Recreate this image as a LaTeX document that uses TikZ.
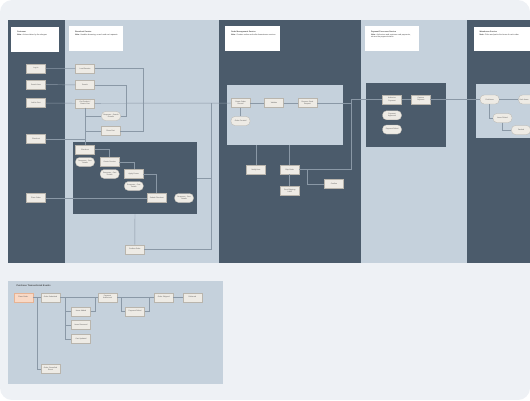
\documentclass[tikz,border=0pt]{standalone}
\usepackage{fontspec}
\setmainfont{Liberation Sans}
\usetikzlibrary{positioning}
\definecolor{canvas}{HTML}{EEF1F5}
\definecolor{lanedark}{HTML}{4B5B6B}
\definecolor{lanelight}{HTML}{C5D1DC}
\definecolor{nodefill}{HTML}{EEEBE5}
\definecolor{nodeline}{HTML}{B9B5AD}
\definecolor{nodetext}{HTML}{555555}
\definecolor{peach}{HTML}{F9D9C6}
\definecolor{peachline}{HTML}{E6B394}
\definecolor{flowline}{HTML}{8A98A6}
\begin{document}
\begin{tikzpicture}[x=1pt,y=-1pt,
    box/.style={draw=nodeline, fill=nodefill, line width=0.3pt, minimum width=19pt,
      minimum height=9pt, inner sep=0.3pt, align=center, text=nodetext,
      font=\fontsize{1.8}{2.1}\selectfont},
    pill/.style={box, rounded corners=4pt},
    startbox/.style={box, fill=peach, draw=peachline},
    darkbox/.style={fill=lanedark, draw=none, inner sep=0pt},
    lightbox/.style={fill=lanelight, draw=none, inner sep=0pt},
    flow/.style={draw=flowline, line width=0.45pt},
    header/.style={anchor=north west, align=left, text=black!75,
      font=\fontsize{1.9}{2.6}\selectfont}]
    \useasboundingbox (0,0) rectangle (530,400);
    \clip[rounded corners=12pt] (0,0) rectangle (530,400);
    \fill[canvas] (0,0) rectangle (530,400);

    % lanes
    \fill[lanedark]  (8,20)   rectangle (65,263);
    \fill[lanelight] (65,20)  rectangle (219,263);
    \fill[lanedark]  (219,20) rectangle (361,263);
    \fill[lanelight] (361,20) rectangle (467,263);
    \fill[lanedark]  (467,20) rectangle (530,263);

    % lane headers
    \fill[white] (11,26.5) rectangle (58.5,51.5);
    \node[header] (hd1) at (13.5,28) {\textbf{Customer}\\ \textbf{Note:} Actions taken by the shopper};
    \fill[white] (69,26) rectangle (123,51);
    \node[header] (hd2) at (71.5,27.5) {\textbf{Storefront Service}\\ \textbf{Note:} Handles browsing, search and cart requests};
    \fill[white] (225,26) rectangle (279.5,51);
    \node[header] (hd3) at (227.5,27.5) {\textbf{Order Management Service}\\ \textbf{Note:} Creates orders and calls downstream services};
    \fill[white] (365,26) rectangle (419,51);
    \node[header] (hd4) at (367.5,27.5) {\textbf{Payment Processor Service}\\ \textbf{Note:} Authorizes and captures card payments,\\ returns the payment status};
    \fill[white] (473.5,26.5) rectangle (530,51);
    \node[header] (hd5) at (476,28) {\textbf{Warehouse Service}\\ \textbf{Note:} Picks and packs the items of each order};

    % inner groups
    \node[darkbox, minimum width=124pt, minimum height=72pt] (ckbox) at (135,178) {};
    \node[lightbox, minimum width=116pt, minimum height=60pt] (odbox) at (285,115) {};
    \node[darkbox, minimum width=80pt, minimum height=64pt] (pybox) at (406,115) {};
    \fill[lanelight] (476,84) rectangle (535,138);

    % customer
    \node[box] (cu1) at (36,68.5) {Log In};
    \node[box] (cu2) at (36,84.5) {Search Item};
    \node[box] (cu3) at (36,103) {Add to Cart};
    \node[box] (cu4) at (36,139) {Checkout};
    \node[box] (cu5) at (36,198) {Place Order};

    % storefront
    \node[box] (sf1) at (85,68.7) {Load Session};
    \node[box] (sf2) at (85,85) {Search};
    \node[box] (sf3) at (85,103.3) {Get Product /\\ Create Cart};
    \node[pill] (sfr1) at (111,116) {Response · Search\\ Results};
    \node[box] (sf4) at (110.5,131) {Show Cart};

    \node[box] (ck1) at (85,149.7) {Checkout};
    \node[pill] (ckr1) at (85,162) {Response · Cart\\ Details};
    \node[box] (ck2) at (109.7,162) {Create Session};
    \node[pill] (ckr2) at (109.7,174) {Response · Cart\\ Details};
    \node[box] (ck3) at (133.8,174) {Apply Promo};
    \node[pill] (ckr3) at (133.8,186) {Response · Cart\\ Details};
    \node[box] (ck4) at (156.7,198) {Submit Checkout};
    \node[pill] (ckr4) at (184,198) {Response · Cart\\ Details};
    \node[box] (ac1) at (134.8,249.3) {Confirm Order};
    \coordinate (jn1) at (211.7,103);

    % order management
    \node[box] (od1) at (240.5,103) {Create Order\\ Record};
    \node[box] (od2) at (274,103) {Validate};
    \node[box] (od3) at (307.5,103) {Reserve Stock\\ Request};
    \node[pill] (odr1) at (240.5,121) {Order Created};
    \node[box] (om1) at (256,169.7) {Notify User};
    \node[box] (om2) at (289.7,169.7) {Ship Order};
    \node[box] (om3) at (289.7,190.5) {Print Shipping\\ Label};
    \node[box] (om4) at (334,184) {Confirm};
    \coordinate (jn2) at (351.7,103);

    % payment
    \node[box] (py1) at (392,99.5) {Authorize\\ Payment};
    \node[box] (py2) at (420.8,99.5) {Capture\\ Payment};
    \node[pill] (pyr1) at (392,115.3) {Payment\\ Approved};
    \node[pill] (pyr2) at (392,129.5) {Payment Failed};

    % warehouse
    \node[pill] (ws1) at (489.7,99.5) {Pick Items};
    \node[pill, text width=17pt, align=left] (ws2) at (528,99.5) {Pack Items};
    \node[pill] (ws3) at (502.5,118) {Items Picked};
    \node[pill] (ws4) at (521,130) {Packed};

    % connectors, top
    \draw[flow] (cu1) -- (sf1);
    \draw[flow] (sf1.east) -- ++(48.5,0) |- (sf4.east);
    \draw[flow] (cu2) -- (sf2);
    \draw[flow] (sf2.east) -- ++(31.5,0) |- (sfr1.east);
    \draw[flow] (cu3) -- (sf3);
    \draw[flow] (sf3) -- (od1);
    \draw[flow] (sf3) -- (ck1);
    \draw[flow] (sf3.south) |- (sfr1.west);
    \draw[flow] (sf3.south) |- (sf4.west);
    \draw[flow] (cu4) -- (cu4 -| ck1);
    \draw[flow] (cu5) -- (ck4);
    \draw[flow] (ck1) -| (ck2);
    \draw[flow] (ck2) -| (ck3);
    \draw[flow] (ck3) -| (ck4);
    \draw[flow] (ckbox.south) -- (ac1);
    \draw[flow] (ac1) -| (jn1);
    \draw[flow] (ckbox.east) -- (ckbox.east -| jn1);

    \draw[flow] (od1) -- (od2);
    \draw[flow] (od2) -- (od3);
    \draw[flow] (od1) -- (odr1);
    \draw[flow] (od3) -- (jn2);
    \draw[flow] (odbox.south -| om1) -- (om1);
    \draw[flow] (odbox.south -| om2) -- (om2);
    \draw[flow] (om2) -- (om3);
    \draw[flow] (om2.east) -- ++(8.3,0) |- (om4);
    \draw[flow] (om2) -| (jn2);
    \draw[flow] (jn2) |- (py1);

    \draw[flow] (py1) -- (py2);
    \draw[flow] (py2) -- (ws1);

    \draw[flow] (ws1) -- (ws2);
    \draw[flow] (ws1) |- (ws3);
    \draw[flow] (ws3) |- (ws4);

    % purchase events
    \fill[lanelight] (8,281) rectangle (223,383.5);
    \node[anchor=west, text=black!75, font=\fontsize{2.3}{2.8}\selectfont\bfseries] (evt) at (13,285.5) {Purchase Transactional Events};

    \node[startbox] (ev1) at (23.3,297.2) {Place Order};
    \node[box] (ev2) at (50.5,297.2) {Order Submitted};
    \node[box] (ev3) at (107.5,297.2) {Payment\\ Authorized};
    \node[box] (ev4) at (81,311.3) {Items Added};
    \node[box] (ev5) at (81,325) {Items Removed};
    \node[box] (ev6) at (81,338.8) {Cart Updated};
    \node[box] (ev7) at (135,311.3) {Payment Failed};
    \node[box] (ev8) at (163.8,297.2) {Order Shipped};
    \node[box] (ev9) at (192.3,297.2) {Delivered};
    \node[box] (ev10) at (50.5,368.8) {Order Cancelled\\ Event};

    \draw[flow] (ev1) -- (ev2);
    \draw[flow] (ev2) -- (ev3);
    \draw[flow] (ev2.east) -- ++(5,0) |- (ev4);
    \draw[flow] (ev2.east) -- ++(5,0) |- (ev5);
    \draw[flow] (ev2.east) -- ++(5,0) |- (ev6);
    \draw[flow] (ev4.east) -- ++(4.3,0) |- (ev3.west);
    \draw[flow] (ev3) -- (ev8);
    \draw[flow] (ev3.east) -- ++(4,0) |- (ev7);
    \draw[flow] (ev7.east) -- ++(4.7,0) |- (ev8.west);
    \draw[flow] (ev8) -- (ev9);
    \draw[flow] (ev1.east) -- ++(4.6,0) |- (ev10);
\end{tikzpicture}
\end{document}
